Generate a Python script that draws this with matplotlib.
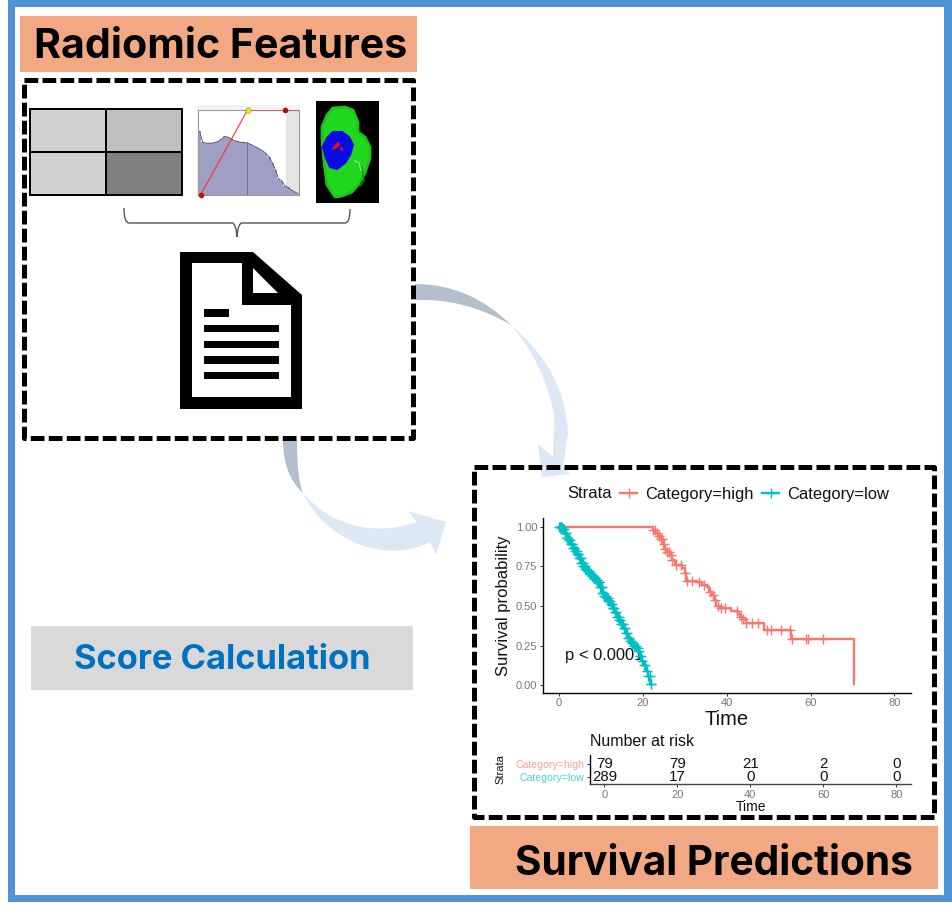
import numpy as np
import matplotlib
matplotlib.use("Agg")
import matplotlib.pyplot as plt
from matplotlib.patches import Rectangle, PathPatch, Polygon
from matplotlib.path import Path

W, H = 952, 915
plt.rcParams['font.family'] = ['Liberation Sans', 'DejaVu Sans']

# ---------- data ----------
high_t = [0, 22.5, 23, 23.6, 24.2, 24.8, 25.1, 25.6, 26.4, 27, 27.6, 29.3, 30, 30.3,
          32.9, 34, 35.3, 35.9, 36.5, 37, 37.4, 38.4, 41, 42.8, 43.2, 43.8, 44.6, 48.8, 55.3, 70.3]
high_s = [1.0, 0.98, 0.96, 0.94, 0.92, 0.89, 0.86, 0.84, 0.82, 0.79, 0.76, 0.74, 0.71, 0.66,
          0.65, 0.63, 0.62, 0.59, 0.57, 0.54, 0.50, 0.49, 0.47, 0.45, 0.43, 0.42, 0.39, 0.35, 0.29, 0.01]
high_cens = [22.5, 22.8, 23.3, 23.8, 24.3, 24.6, 25, 25.4, 25.8, 26.2, 26.6, 27, 28, 29, 30, 30.5, 31.7,
             33.5, 34.5, 36, 36.7, 37.3, 38, 38.6, 39.7, 42.5, 43.5, 44, 44.6, 46, 47.5, 49.5, 50.5,
             53, 55, 55.5, 59, 59.5, 62.9]
low_t = [0, 0.8, 1.3, 1.8, 2.3, 2.8, 3.3, 3.8, 4.3, 4.8, 5.3, 5.8, 6.3, 6.8, 7.3, 7.8, 8.3, 8.8,
         9.3, 9.8, 10.3, 10.8, 11.3, 11.8, 12.3, 12.8, 13.3, 13.8, 14.3, 14.8, 15.3, 15.8, 16.3,
         16.8, 17.3, 17.8, 18.3, 18.8, 19.3, 19.8, 20.3, 20.8, 21.3, 21.8]
low_s = [1.0, 0.985, 0.96, 0.93, 0.915, 0.89, 0.865, 0.85, 0.825, 0.80, 0.77, 0.75, 0.735, 0.72,
         0.705, 0.69, 0.675, 0.665, 0.65, 0.62, 0.585, 0.565, 0.55, 0.53, 0.51, 0.49, 0.46, 0.43,
         0.41, 0.385, 0.36, 0.33, 0.30, 0.28, 0.265, 0.25, 0.235, 0.215, 0.185, 0.155, 0.125, 0.09, 0.06, 0.01]
low_cens = [0, 0.15, 0.3, 0.5, 0.7, 0.85, 1, 1.2, 1.35, 1.5, 1.65, 1.8, 2, 2.2, 2.35, 2.5, 2.65, 2.8, 3, 3.2,
            3.35, 3.5, 3.65, 3.8, 4, 4.2, 4.35, 4.5, 4.65, 4.8, 5, 5.2, 5.35, 5.5, 5.65, 5.8, 6, 6.15, 6.3,
            6.45, 6.6, 6.8, 7, 7.15, 7.3, 7.45, 7.6, 7.8, 8, 8.15, 8.3, 8.45, 8.6, 8.8, 9, 9.15, 9.3, 9.45,
            9.6, 9.8, 10, 10.15, 10.3, 10.45, 10.6, 10.8, 11, 11.2, 11.4, 11.6, 11.8, 12, 12.2, 12.4, 12.6,
            12.8, 13, 13.2, 13.4, 13.6, 13.8, 14, 14.2, 14.4, 14.6, 14.8, 15, 15.25, 15.5, 15.75, 16, 16.25,
            16.5, 16.75, 17, 17.25, 17.5, 17.75, 18, 18.25, 18.5, 18.75, 19, 19.3, 19.6, 19.9, 20.3, 20.6,
            21, 21.3, 21.6, 21.9, 22]
strata = ['Category=low', 'Category=high']
risk_times = [0, 20, 40, 60, 80]
risk_high = [79, 79, 21, 2, 0]
risk_low = [289, 17, 0, 0, 0]
grid_vals = [[0.82, 0.75], [0.82, 0.50]]
hist_vals = [0.75, 0.62, 0.61, 0.61, 0.61, 0.62, 0.63, 0.66, 0.69, 0.68, 0.66, 0.64, 0.63, 0.62,
             0.62, 0.61, 0.60, 0.58, 0.56, 0.54, 0.52, 0.49, 0.45, 0.38, 0.30, 0.19, 0.17, 0.11,
             0.09, 0.06, 0.04, 0.02]

C_HIGH, C_LOW = '#F8766D', '#00BFC4'
BLUE, PEACH = '#4f94d8', '#f2a983'

fig = plt.figure(figsize=(W / 100, H / 100), dpi=100, facecolor='white')


def px_axes(x0, y0, x1, y1, **kw):
    return fig.add_axes([x0 / W, 1 - y1 / H, (x1 - x0) / W, (y1 - y0) / H], **kw)


ov = px_axes(0, 0, W, H, zorder=1)
ov.set_xlim(0, W)
ov.set_ylim(H, 0)
ov.axis('off')
top = px_axes(0, 0, W, H, zorder=5)
top.set_xlim(0, W)
top.set_ylim(H, 0)
top.axis('off')
top.patch.set_alpha(0)

# frame
ov.add_patch(Rectangle((8, 0), 936 + 8, 902, fc=BLUE, ec='none'))
ov.add_patch(Rectangle((15, 7), 929, 888, fc='white', ec='none'))

# header boxes
HEAD = dict(family=['Inter', 'DejaVu Sans'], fontweight='bold', va='center', ha='center')
ov.add_patch(Rectangle((20, 16), 397, 56, fc=PEACH, ec='none'))
ov.text(221, 47, 'Radiomic Features', fontsize=29.6, color='black', **HEAD)
ov.add_patch(Rectangle((470, 826), 468, 63, fc=PEACH, ec='none'))
ov.text(714, 864, 'Survival Predictions', fontsize=29.2, color='black', **HEAD)
ov.add_patch(Rectangle((31, 626), 382, 64, fc='#d9d9d9', ec='none'))
ov.text(222, 660, 'Score Calculation', fontsize=24.8, color='#0070c0', **HEAD)

# curved arrows
GREY_A, LIGHT_A = '#b3bfcd', '#dce8f6'
M, L, Q, C, Z = Path.MOVETO, Path.LINETO, Path.CURVE3, Path.CURVE4, Path.CLOSEPOLY
arrows = [
    ([(415, 284), (470, 284), (511, 325), (465, 298), (415, 300), (415, 284)],
     [M, Q, Q, Q, Q, Z], GREY_A),
    ([(511, 325), (565, 370), (568, 433), (563, 467), (570, 474), (542, 477), (538, 444), (553, 457),
      (554, 415), (545, 365), (511, 325), (511, 325)],
     [M, Q, Q, L, L, L, L, L, L, Q, Q, Z], LIGHT_A),
    ([(283, 440), (283, 475), (303, 493), (297, 480), (297, 440), (283, 440)],
     [M, Q, Q, Q, Q, Z], GREY_A),
    ([(303, 493), (325, 540), (385, 565), (430, 542), (436, 555), (446, 522), (408, 511), (417, 522),
      (380, 535), (335, 530), (303, 493), (303, 493)],
     [M, C, C, C, L, L, L, L, C, C, C, Z], LIGHT_A),
]
for verts, codes, col in arrows:
    ov.add_patch(PathPatch(Path(verts, codes), fc=col, ec='none'))

# dashed boxes
for (x0, y0, x1, y1) in [(23.5, 79.5, 412.5, 437.5), (473.5, 466.5, 933.5, 816.5)]:
    top.add_patch(Rectangle((x0, y0), x1 - x0, y1 - y0, fc='none', ec='black', lw=3.6,
                            linestyle=(0, (2.75, 0.85)), joinstyle='round', capstyle='butt'))

# grey grid panel
ax_g = px_axes(30, 109, 182, 195, zorder=2)
ax_g.pcolormesh(grid_vals, cmap='gray', vmin=0, vmax=1, edgecolors='black', linewidth=1.2)
ax_g.invert_yaxis()
ax_g.axis('off')
top.add_patch(Rectangle((30, 109), 152, 86, fc='none', ec='black', lw=1.4))

# histogram panel
ov.add_patch(Rectangle((197, 105), 103, 91, fc='#f3f3f3', ec='none'))
ax_h = px_axes(198, 110, 299, 195, zorder=2)
ax_h.set_xlim(0, len(hist_vals))
ax_h.set_ylim(0, 1)
ax_h.axvspan(28, len(hist_vals), color='#e4e4e4', lw=0)
ax_h.bar(np.arange(len(hist_vals)) + 0.5, hist_vals, width=1.0, color='#9f9fc6', lw=0)
ax_h.plot(np.arange(len(hist_vals)) + 0.5, hist_vals, color='#55556f', lw=0.6)
ax_h.axvline(15.5, ymax=0.62, color='#6f6f90', lw=0.7)
ax_h.plot([0.8, 15.7, 32], [0, 1, 1], color='#ff3030', lw=0.9, alpha=0.9, zorder=3)
ax_h.plot([0.8], [0], 'o', color='#c01010', ms=3, clip_on=False, zorder=4)
ax_h.plot([15.7], [1], 'o', color='#f0e020', mec='#777700', mew=0.3, ms=4, clip_on=False, zorder=4)
ax_h.plot([27.7], [1], 'o', color='#b01010', ms=3, clip_on=False, zorder=4)
ax_h.set_xticks([])
ax_h.set_yticks([])
for s in ax_h.spines.values():
    s.set_color('#9a9a9a')
    s.set_linewidth(0.8)

# 3D surface panel
ov.add_patch(Rectangle((316, 101), 63, 102, fc='black', ec='none'))
green = [(333, 108), (345, 107), (353, 110), (358, 122), (358, 132), (365, 137), (370, 147), (370, 158),
         (365, 173), (358, 185), (352, 192), (342, 196), (335, 197), (327, 185), (324, 162), (322, 138),
         (322, 127), (327, 115)]
blue = [(333, 132), (342, 132), (349, 137), (353, 145), (350, 155), (345, 163), (337, 169), (330, 167),
        (326, 158), (323, 147), (327, 138)]
red1 = [(332, 149), (338, 142), (340, 145), (335, 149)]
red2 = [(341, 147), (343, 150), (343, 150), (341, 150)]
ov.add_patch(Polygon(green, closed=True, fc='#22d81e', ec='#1cc418', lw=2, joinstyle='round'))
ov.plot([357, 362, 364, 360], [162, 168, 180, 186], color='#0f8f0d', lw=1.0)
ov.plot([355, 359, 361], [161, 163, 170], color='#8cf08a', lw=1.0)
ov.add_patch(Polygon(blue, closed=True, fc='#0a0ae6', ec='#0a0ae6', lw=1.5, joinstyle='round'))
ov.add_patch(Polygon(red1, closed=True, fc='#e81010', ec='#e81010', lw=0.5))
ov.add_patch(Polygon(red2, closed=True, fc='#e81010', ec='#e81010', lw=1.0))

# brace
brace = Path([(124, 208), (124, 223), (129, 223), (232, 223), (236, 223), (237, 237),
              (238, 223), (242, 223), (345, 223), (350, 223), (350, 209)],
             [M, Q, Q, L, Q, Q, Q, Q, L, Q, Q])
ov.add_patch(PathPatch(brace, fc='none', ec='#555555', lw=1.0))

# document icon
doc = [(180, 252), (253, 252), (302, 295), (302, 409), (180, 409)]
inner = [(192, 263), (242, 263), (242, 305), (291, 305), (291, 397), (192, 397)]
fold = [(253, 268), (278, 293), (253, 293)]
ov.add_patch(Polygon(doc, closed=True, fc='black', ec='none'))
ov.add_patch(Polygon(inner, closed=True, fc='white', ec='none'))
ov.add_patch(Polygon(fold, closed=True, fc='white', ec='none'))
for (x0, x1, y0, y1) in [(204, 229, 309, 317), (204, 279, 325, 332), (204, 279, 341, 348),
                         (204, 279, 356, 364), (204, 279, 372, 379)]:
    ov.add_patch(Rectangle((x0, y0), x1 - x0, y1 - y0, fc='black', ec='none'))

# ---------- survival curves ----------
ax = px_axes(542.7, 518, 910.7, 692.7, zorder=3)
ax.patch.set_alpha(0)
ax.set_xlim(-3.89, 83.9)
ax.set_ylim(-0.0467, 1.055)


def marks(ts, ss, cens):
    idx = np.searchsorted(ts, cens, side='right') - 1
    return cens, np.asarray(ss)[idx]


ax.text(1.5, 0.19, 'p < 0.0001', fontsize=11.9, va='center', ha='left', color='#111111', zorder=1)
for ts, ss, cens, col in [(high_t, high_s, high_cens, C_HIGH), (low_t, low_s, low_cens, C_LOW)]:
    ax.step(ts, ss, where='post', color=col, lw=1.7, zorder=2)
    cx, cy = marks(ts, ss, cens)
    ax.plot(cx, cy, ls='none', marker='+', color=col, ms=7.5, mew=1.0, zorder=2)
ax.set_xticks([0, 20, 40, 60, 80])
ax.set_yticks([0, 0.25, 0.5, 0.75, 1.0])
ax.set_yticklabels(['0.00', '0.25', '0.50', '0.75', '1.00'])
ax.tick_params(labelsize=8, labelcolor='#777777', length=2, width=0.7, color='#333333', pad=2)
ax.set_xlabel('Time', fontsize=14.5, labelpad=1, color='#111111')
ax.set_ylabel('Survival probability', fontsize=12, labelpad=3, color='#111111')
ax.spines[['top', 'right']].set_visible(False)
ax.spines[['left', 'bottom']].set_linewidth(1.0)

# legend
top.text(567, 494, 'Strata', fontsize=12, va='center', ha='left', color='#111111')
for x0, col, lab in [(620, C_HIGH, 'Category=high'), (762, C_LOW, 'Category=low')]:
    top.plot([x0, x0 + 17], [493, 493], color=col, lw=1.7)
    top.plot([x0 + 8.5], [493], marker='+', color=col, ms=7, mew=1.0)
    top.text(x0 + 25, 494, lab, fontsize=11.9, va='center', ha='left', color='#111111')

# ---------- risk table ----------
rk = px_axes(590.3, 755, 910.7, 784.3, zorder=3)
rk.patch.set_alpha(0)
rk.set_xlim(-3.84, 83.95)
rk.set_ylim(-0.54, 1.63)
for t, a, b in zip(risk_times, risk_high, risk_low):
    rk.text(t, 1, str(a), fontsize=10.8, ha='center', va='center', color='#111111')
    rk.text(t, 0, str(b), fontsize=10.8, ha='center', va='center', color='#111111')
rk.set_xticks(risk_times)
rk.set_yticks([0, 1])
rk.set_yticklabels(strata, fontsize=7.6)
rk.get_yticklabels()[0].set_color('#4dd5d8')
rk.get_yticklabels()[1].set_color('#ff9d98')
rk.tick_params(axis='x', labelsize=8, labelcolor='#777777', length=2, width=0.7, color='#333333', pad=2)
rk.tick_params(axis='y', length=2, width=0.7, color='#333333', pad=2)
rk.set_xlabel('Time', fontsize=10, labelpad=0, color='#111111')
rk.spines[['top', 'right']].set_visible(False)
rk.spines[['left', 'bottom']].set_linewidth(1.0)
rk.spines['bottom'].set_color('#444444')
top.text(590, 742, 'Number at risk', fontsize=11.5, va='center', ha='left', color='#111111')
top.text(500, 769.5, 'Strata', fontsize=8, rotation=90, va='center', ha='center', color='#111111')

fig.savefig('out.png', dpi=100, facecolor='white')
